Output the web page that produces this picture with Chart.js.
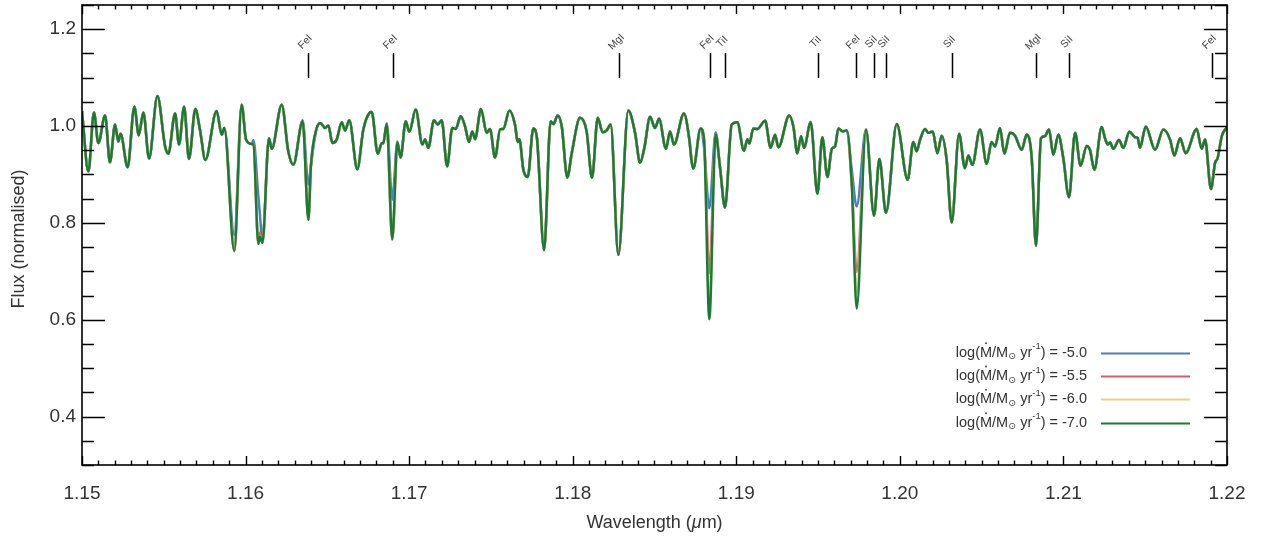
<!DOCTYPE html>
<html><head><meta charset="utf-8">
<script src="https://cdn.jsdelivr.net/npm/chart.js@4/dist/chart.umd.min.js"></script>
<style>html,body{margin:0;padding:0;background:#fff;}#wrap{width:1264px;height:538px;}</style>
</head><body><div id="wrap"><canvas id="c" width="1264" height="538"></canvas></div>
<script>
// Wavelength grid (micron)
const wavelength = [
1.15000,1.15039,1.15073,1.15100,1.15141,1.15171,1.15202,1.15222,1.15236,1.15279,
1.15320,1.15347,1.15375,1.15410,1.15461,1.15508,1.15528,1.15569,1.15593,1.15624,
1.15654,1.15693,1.15721,1.15754,1.15823,1.15854,1.15870,1.15931,1.15976,1.16003,
1.16037,1.16048,1.16078,1.16088,1.16103,1.16143,1.16160,1.16221,1.16261,1.16292,
1.16349,1.16384,1.16400,1.16435,1.16459,1.16486,1.16506,1.16531,1.16557,1.16588,
1.16608,1.16634,1.16683,1.16720,1.16757,
1.16771,1.16808,1.16832,1.16842,1.16863,1.16897,1.16928,1.16948,1.16979,1.17001,
1.17040,1.17081,1.17097,1.17117,1.17152,1.17175,1.17199,1.17232,1.17264,1.17285,
1.17315,1.17342,1.17366,1.17386,1.17403,1.17439,1.17474,1.17494,1.17525,1.17556,
1.17576,1.17613,1.17647,1.17664,1.17674,1.17698,1.17725,1.17759,1.17780,1.17825,
1.17865,1.17882,1.17908,1.17933,1.17967,1.17994,1.18045,1.18085,1.18118,1.18153,
1.18183,1.18208,1.18232,1.18279,1.18340,1.18381,1.18412,1.18438,1.18473,1.18503,
1.18528,1.18570,1.18595,1.18619,1.18680,1.18713,1.18727,1.18737,1.18782,1.18803,
1.18835,1.18874,1.18901,1.18931,1.18972,1.19006,1.19047,1.19068,1.19080,1.19104,
1.19129,1.19176,1.19210,1.19237,1.19257,1.19324,1.19349,1.19373,1.19396,1.19414,
1.19455,1.19496,1.19526,1.19557,1.19584,1.19604,1.19624,1.19650,1.19675,1.19706,
1.19736,1.19793,1.19842,1.19875,1.19915,1.19981,1.20048,1.20082,1.20103,1.20123,
1.20154,1.20174,1.20201,1.20229,
1.20256,1.20286,1.20317,1.20362,1.20398,1.20419,1.20443,1.20490,1.20531,1.20561,
1.20582,1.20612,1.20639,1.20673,1.20704,1.20745,1.20775,1.20806,1.20832,1.20863,
1.20887,1.20912,1.20938,1.20969,1.20999,1.21034,1.21071,1.21105,1.21142,1.21162,
1.21189,1.21234,1.21254,1.21271,1.21285,1.21305,1.21340,1.21366,1.21403,1.21438,
1.21454,1.21468,1.21503,1.21560,1.21611,1.21652,1.21678,1.21713,1.21747,1.21815,
1.21845,1.21866,1.21902,1.21927,1.21943,1.21968,1.22000
];
// Normalised flux for log(Mdot) = -7.0 (shared by all models away from the wind-sensitive lines)
const flux = [
1.031,0.906,1.028,0.965,1.022,0.925,1.003,0.968,0.984,0.915,
1.040,0.981,1.028,0.933,1.062,0.958,0.943,1.026,0.962,1.040,
0.932,1.035,0.993,0.930,1.031,0.982,0.996,0.742,1.044,0.972,
0.963,0.962,0.757,0.772,0.759,0.975,0.953,1.044,0.948,0.920,
1.010,0.806,0.920,0.996,1.006,0.996,1.001,0.965,0.972,1.008,
0.991,1.012,0.911,0.993,1.027,
1.029,0.943,0.964,0.965,1.004,0.766,0.966,0.935,1.010,0.988,
1.034,0.962,0.973,0.955,1.012,1.003,1.012,0.917,0.996,0.994,
1.020,0.999,0.967,0.989,0.973,1.035,0.986,0.994,0.935,0.993,
0.994,1.032,1.003,0.967,0.973,0.910,0.895,0.995,0.979,0.744,
1.010,1.004,1.022,0.999,0.894,0.944,1.017,0.989,0.893,1.017,
0.987,0.991,1.003,0.734,1.032,0.986,0.924,0.955,1.019,0.996,
1.015,0.953,0.989,0.962,1.026,0.972,0.927,0.912,0.995,0.972,
0.601,0.982,0.913,0.832,1.003,1.008,0.949,0.973,0.964,0.995,
0.994,1.011,0.955,0.982,0.956,1.022,0.999,0.944,0.979,0.955,
1.008,0.860,0.977,0.895,0.953,0.958,0.995,0.989,0.991,0.880,
0.623,0.993,0.815,0.932,0.821,1.004,0.889,0.967,0.948,0.971,
0.994,0.986,0.989,0.944,
0.980,0.930,0.801,0.984,0.913,0.939,0.920,0.993,0.922,0.967,
0.958,0.996,0.943,0.986,0.980,0.951,0.982,0.934,0.753,0.975,
0.979,0.993,0.941,0.982,0.934,0.853,0.986,0.918,0.959,0.951,
0.910,0.998,0.975,0.962,0.966,0.953,0.971,0.955,0.988,0.977,
0.975,0.955,0.999,0.951,0.993,0.972,0.939,0.975,0.944,0.994,
0.953,0.972,0.870,0.924,0.934,0.979,0.998
];
// Points where the other mass-loss models differ
const dev50Wl   = [1.15931,1.16048,1.16078,1.16088,1.16349,1.16384,1.16863,1.16897,1.16928,1.18803,1.18835,1.18874,1.19706,1.19736];
const dev50Flux = [0.775,  0.971,  0.855,  0.817,  1.012,  0.879,  1.006,  0.848,  0.968,  0.955,  0.830,  0.987,  0.910,  0.834];
const dev55Wl   = [1.16088,1.16384,1.18835,1.19736];
const dev55Flux = [0.780,  0.812,  0.696,  0.699];
const dev60Wl   = [1.16088,1.18835,1.19736];
const dev60Flux = [0.773,  0.625,  0.655];
const dev70Wl   = [];
const dev70Flux = [];

const seriesLabels = ['-5.0','-5.5','-6.0','-7.0'];
const seriesColors = ['#4a7fc4','#d65b6c','#e6d389','#1b7b35'];

// Line identifications
const lineWl = [1.16380,1.16900,1.18283,1.18837,1.18929,1.19501,1.19730,1.19841,1.19918,1.20319,1.20832,1.21036,1.21908];
const lineNames = ['FeI','FeI','MgI','FeI','TiI','TiI','FeI','SiI','SiI','SiI','MgI','SiI','FeI'];

const xMajor = [1.15,1.16,1.17,1.18,1.19,1.20,1.21,1.22];
const yMajor = [0.4,0.6,0.8,1.0,1.2];

function buildSeries(dWl, dFl){
  return wavelength.map((w,i)=>{ const k = dWl.indexOf(w); return {x:w, y: k>=0 ? dFl[k] : flux[i]}; });
}
const devs = [[dev50Wl,dev50Flux],[dev55Wl,dev55Flux],[dev60Wl,dev60Flux],[dev70Wl,dev70Flux]];
// order: green first so it is drawn on top
const datasets = [3,2,1,0].map(k=>({
  label: seriesLabels[k], data: buildSeries(devs[k][0], devs[k][1]),
  borderColor: seriesColors[k], borderWidth: 2.5, pointRadius: 0,
  cubicInterpolationMode: 'monotone', fill:false
}));

const FONT = '"Liberation Sans", Arial, "DejaVu Sans", sans-serif';
const TXT = '#333';

const decor = {
  id:'decor',
  afterDraw(chart){
    const ctx = chart.ctx, a = chart.chartArea, xs = chart.scales.x, ys = chart.scales.y;
    ctx.save();
    ctx.strokeStyle = '#000'; ctx.lineWidth = 1.6;
    ctx.strokeRect(a.left, a.top, a.right-a.left, a.bottom-a.top);
    ctx.lineWidth = 1.4;
    ctx.beginPath();
    for (let i=0;i<=70;i++){
      const v = 1.15 + i*0.001, px = Math.round(xs.getPixelForValue(v))+0.5;
      const L = (i%10===0) ? 9 : 4.5;
      ctx.moveTo(px, a.bottom); ctx.lineTo(px, a.bottom-L);
      ctx.moveTo(px, a.top); ctx.lineTo(px, a.top+L);
    }
    for (let i=0;i<=19;i++){
      const v = 0.3 + i*0.05, py = Math.round(ys.getPixelForValue(v))+0.5;
      const maj = yMajor.some(m=>Math.abs(m-v)<1e-6);
      const L = maj ? 23 : 12;
      ctx.moveTo(a.left, py); ctx.lineTo(a.left+L, py);
      ctx.moveTo(a.right, py); ctx.lineTo(a.right-L, py);
    }
    ctx.stroke();
    // line identifications
    ctx.lineWidth = 1.5;
    ctx.beginPath();
    lineWl.forEach(w=>{
      const px = Math.round(xs.getPixelForValue(w))+0.5;
      ctx.moveTo(px, ys.getPixelForValue(1.151)); ctx.lineTo(px, ys.getPixelForValue(1.099));
    });
    ctx.stroke();
    ctx.fillStyle = '#444'; ctx.font = '10.5px '+FONT; ctx.textAlign='center'; ctx.textBaseline='middle';
    lineWl.forEach((w,i)=>{
      const px = xs.getPixelForValue(w);
      ctx.save(); ctx.translate(px-2.5, 42); ctx.rotate(-Math.PI/4); ctx.fillText(lineNames[i],0,0); ctx.restore();
    });
    // axis titles
    ctx.fillStyle = TXT; ctx.font = '18px '+FONT; ctx.textAlign='center'; ctx.textBaseline='middle';
    ctx.save(); ctx.translate(19, 239); ctx.rotate(-Math.PI/2); ctx.fillText('Flux (normalised)',0,0); ctx.restore();
    const p1='Wavelength (', p2='μ', p3='m)';
    ctx.font='18px '+FONT; const w1=ctx.measureText(p1).width, w3=ctx.measureText(p3).width;
    ctx.font='italic 18px '+FONT; const w2=ctx.measureText(p2).width;
    let x0 = (a.left+a.right)/2 - (w1+w2+w3)/2, yT = 523;
    ctx.textAlign='left';
    ctx.font='18px '+FONT; ctx.fillText(p1,x0,yT);
    ctx.font='italic 18px '+FONT; ctx.fillText(p2,x0+w1,yT);
    ctx.font='18px '+FONT; ctx.fillText(p3,x0+w1+w2,yT);
    // legend
    const rows=[352.7,376,399.3,422.7];
    const big='14.5px '+FONT, small='9.5px '+FONT;
    seriesLabels.forEach((lab,k)=>{
      const y=rows[k];
      const parts=[['log(',big,0],['M',big,0,true],['/M',big,0],['⊙',small,4],[' yr',big,0],['-1',small,-6],[') = '+lab,big,0]];
      let tot=0; parts.forEach(p=>{ctx.font=p[1]; p.w=ctx.measureText(p[0]).width; tot+=p.w;});
      let x=1087-tot;
      ctx.fillStyle=TXT; ctx.textBaseline='middle'; ctx.textAlign='left';
      parts.forEach(p=>{
        ctx.font=p[1]; ctx.fillText(p[0],x,y+p[2]);
        if (p[3]) { ctx.beginPath(); ctx.arc(x+p.w/2, y-9.5, 0.9, 0, Math.PI*2); ctx.fill(); }
        x+=p.w;
      });
      ctx.strokeStyle=seriesColors[k]; ctx.lineWidth=2;
      ctx.beginPath(); ctx.moveTo(1101,Math.round(y)+0.5); ctx.lineTo(1190,Math.round(y)+0.5); ctx.stroke();
    });
    ctx.restore();
  }
};

new Chart(document.getElementById('c'), {
  type:'line',
  data:{datasets},
  options:{
    responsive:false, animation:false, devicePixelRatio:1, parsing:false,
    layout:{padding:{top:5,right:37,left:0,bottom:0}},
    plugins:{legend:{display:false}, tooltip:{enabled:false}},
    scales:{
      x:{type:'linear', min:1.15, max:1.22,
        afterBuildTicks:s=>{s.ticks=xMajor.map(v=>({value:v}));},
        afterFit:s=>{s.height=73; s.paddingLeft=0; s.paddingRight=0;},
        grid:{display:false, drawTicks:false}, border:{display:false},
        ticks:{padding:17, maxRotation:0, autoSkip:false, color:TXT, font:{size:19, family:FONT}, callback:v=>v.toFixed(2)}},
      y:{type:'linear', min:0.3, max:1.25,
        afterBuildTicks:s=>{s.ticks=yMajor.map(v=>({value:v}));},
        afterFit:s=>{s.width=82; s.paddingTop=0; s.paddingBottom=0;},
        grid:{display:false, drawTicks:false}, border:{display:false},
        ticks:{padding:6, color:TXT, font:{size:19, family:FONT}, callback:v=>v.toFixed(1)}}
    }
  },
  plugins:[decor]
});
</script></body></html>
